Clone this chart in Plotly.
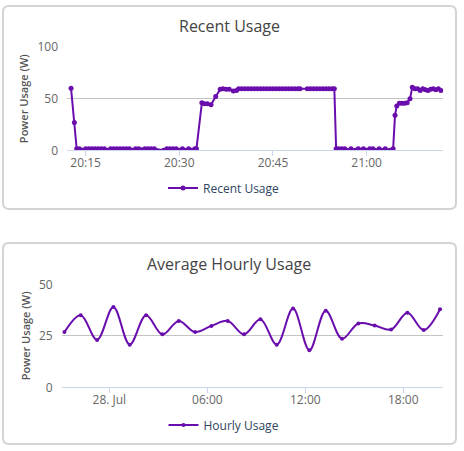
import pandas as pd
import plotly.graph_objects as go

# recent usage, 28 Jul (W)
recent_day = "2018-07-28 "
recent_times = [
    "20:12:40", "20:13:12", "20:13:34",
    "20:14:00", "20:14:30", "20:15:00", "20:15:30", "20:16:00", "20:16:30",
    "20:17:00", "20:17:30", "20:18:00", "20:18:30", "20:19:00", "20:19:30",
    "20:20:00", "20:20:30", "20:21:00", "20:21:30", "20:22:00", "20:22:30",
    "20:23:00", "20:23:30", "20:24:00", "20:24:30", "20:25:00", "20:25:30",
    "20:26:00", "20:27:30", "20:28:00", "20:28:30", "20:29:00", "20:29:30",
    "20:30:00", "20:30:30", "20:31:00", "20:31:30", "20:32:00", "20:32:30",
    "20:32:45",
    "20:33:37", "20:34:00", "20:34:30", "20:35:05", "20:35:50", "20:36:33",
    "20:37:00", "20:37:30", "20:38:00", "20:38:40", "20:39:10", "20:39:30",
    "20:40:00", "20:40:30", "20:41:00", "20:41:30", "20:42:00", "20:42:30",
    "20:43:00", "20:43:30", "20:44:00", "20:44:30", "20:45:00", "20:45:30",
    "20:46:00", "20:46:30", "20:47:00", "20:47:30", "20:48:00", "20:48:30",
    "20:49:00", "20:49:20", "20:50:30", "20:51:00", "20:51:30", "20:52:00",
    "20:52:30", "20:53:00", "20:53:30", "20:54:00", "20:54:30", "20:54:50",
    "20:55:07", "20:55:30", "20:56:00", "20:56:30", "20:56:50", "20:57:30",
    "20:58:10", "20:58:40", "20:59:30", "21:00:00", "21:00:30", "21:01:00",
    "21:01:20", "21:02:00", "21:02:25", "21:03:00", "21:03:45", "21:04:15",
    "21:04:33", "21:04:50", "21:05:15", "21:05:40", "21:06:05", "21:06:30",
    "21:06:57", "21:07:19", "21:07:45", "21:08:10", "21:08:35", "21:09:00",
    "21:09:25", "21:09:50", "21:10:15", "21:10:40", "21:11:05", "21:11:30",
    "21:11:54",
]
recent_watts = [
    60, 27, 1.5,
    1.5, 0, 1.5, 1.5, 1.5, 1.5,
    1.5, 1.5, 1.5, 0, 1.5, 1.5,
    1.5, 1.5, 1.5, 1.5, 1.5, 0,
    1.5, 1.5, 0.5, 1.5, 1.5, 1.5,
    1.5, 0, 1.5, 1.5, 1.5, 1.5,
    0, 1.5, 0, 1.5, 0, 1.5,
    1.5,
    46, 45, 45, 44, 52, 59,
    59.5, 59, 59, 57.5, 58, 59.5,
    59.5, 59.5, 59.5, 59.5, 59.5, 59.5,
    59.5, 59.5, 59.5, 59.5, 59.5, 59.5,
    59.5, 59.5, 59.5, 59.5, 59.5, 59.5,
    59.5, 59.5, 59.5, 59.5, 59.5, 59.5,
    59.5, 59.5, 59.5, 59.5, 59.5, 59.5,
    1.5, 1.5, 1.5, 1.5, 0, 1.5,
    0, 1.5, 1.5, 0, 1.5, 1.5,
    0, 1.5, 0, 1.5, 0, 1.5,
    34, 43, 45.5, 45.5, 45.5, 46,
    50, 61, 59.5, 59.5, 58, 59.5,
    58.5, 58, 59, 59.5, 58.5, 59.5,
    58,
]

# hourly averages (W)
hourly_times = [
    "2018-07-27 21:15", "2018-07-27 22:15", "2018-07-27 23:15",
    "2018-07-28 00:15", "2018-07-28 01:15", "2018-07-28 02:15",
    "2018-07-28 03:15", "2018-07-28 04:15", "2018-07-28 05:15",
    "2018-07-28 06:15", "2018-07-28 07:15", "2018-07-28 08:15",
    "2018-07-28 09:15", "2018-07-28 10:15", "2018-07-28 11:15",
    "2018-07-28 12:15", "2018-07-28 13:15", "2018-07-28 14:15",
    "2018-07-28 15:15", "2018-07-28 16:15", "2018-07-28 17:15",
    "2018-07-28 18:15", "2018-07-28 19:15", "2018-07-28 20:15",
]
hourly_watts = [
    26.8, 35, 23, 39, 20.7, 35, 25.7, 32.2, 26.8, 29.8, 32.2, 25.7,
    33, 20.7, 38.2, 18, 37.2, 23.6, 31, 30, 28, 36.2, 27.8, 37.9,
]

W, H = 464, 451
purple = "#6a0dad"
font = "Open Sans"


def px(x):
    return x / W


def py(y):
    return 1 - y / H


def card(x0, y0, x1, y1, r=6):
    return (f"M{px(x0 + r)},{py(y0)} L{px(x1 - r)},{py(y0)} "
            f"Q{px(x1)},{py(y0)} {px(x1)},{py(y0 + r)} L{px(x1)},{py(y1 - r)} "
            f"Q{px(x1)},{py(y1)} {px(x1 - r)},{py(y1)} L{px(x0 + r)},{py(y1)} "
            f"Q{px(x0)},{py(y1)} {px(x0)},{py(y1 - r)} L{px(x0)},{py(y0 + r)} "
            f"Q{px(x0)},{py(y0)} {px(x0 + r)},{py(y0)} Z")


fig = go.Figure()
fig.add_trace(go.Scatter(
    x=pd.to_datetime([recent_day + t for t in recent_times]), y=recent_watts,
    mode="lines+markers", name="Recent Usage",
    line=dict(color=purple, width=2), marker=dict(size=5, color=purple),
    xaxis="x", yaxis="y", legend="legend",
))
fig.add_trace(go.Scatter(
    x=pd.to_datetime(hourly_times), y=hourly_watts,
    mode="lines+markers", name="Hourly Usage",
    line=dict(color=purple, width=2, shape="spline", smoothing=1),
    marker=dict(size=4, color=purple),
    xaxis="x2", yaxis="y2", legend="legend2",
))

xcommon = dict(showgrid=False, showline=True, linecolor="#ccd6eb", linewidth=1,
               ticks="outside", ticklen=5, tickcolor="#ccd6eb", tickformat="%H:%M",
               ticklabelstandoff=-4,
               tickfont=dict(family=font, size=12, color="#666666"), zeroline=False,
               automargin=False)
ycommon = dict(showgrid=True, gridcolor="#c4c4c4", gridwidth=1, zeroline=False,
               showline=False, ticklabelstandoff=8, automargin=False,
               tickfont=dict(family=font, size=12, color="#666666"))
ytitle = dict(text="Power Usage (W)", font=dict(family=font, size=11, color="#555555", weight=600),
              standoff=6)

fig.update_layout(
    width=W, height=H, margin=dict(l=0, r=0, t=0, b=0, autoexpand=False),
    paper_bgcolor="white", plot_bgcolor="rgba(0,0,0,0)",
    showlegend=True,
    xaxis=dict(xcommon, domain=[px(67), px(443.3)], anchor="y",
               range=["2018-07-28 20:12:01", "2018-07-28 21:12:17"],
               tickvals=pd.to_datetime(["2018-07-28 20:15", "2018-07-28 20:30",
                                        "2018-07-28 20:45", "2018-07-28 21:00"])),
    yaxis=dict(ycommon, domain=[py(150.3), py(47)], anchor="x", range=[0, 100],
               tickvals=[0, 50, 100], title=ytitle),
    xaxis2=dict(xcommon, domain=[px(61.7), px(443.3)], anchor="y2",
                range=["2018-07-27 21:05", "2018-07-28 20:27"],
                tickvals=pd.to_datetime(["2018-07-28 00:00", "2018-07-28 06:00",
                                         "2018-07-28 12:00", "2018-07-28 18:00"]),
                ticktext=["28. Jul", "06:00", "12:00", "18:00"]),
    yaxis2=dict(ycommon, domain=[py(387.3), py(284.3)], anchor="x2", range=[0, 50],
                tickvals=[0, 25, 50], title=ytitle),
    legend=dict(x=px(224), y=py(188), xanchor="center", yanchor="middle", orientation="h",
                font=dict(family=font, size=12, color="#2e4460"), bgcolor="rgba(0,0,0,0)"),
    legend2=dict(x=px(224), y=py(425), xanchor="center", yanchor="middle", orientation="h",
                 font=dict(family=font, size=12, color="#2e4460"), bgcolor="rgba(0,0,0,0)"),
    shapes=[
        dict(type="path", xref="paper", yref="paper", path=card(3, 6, 456, 209),
             fillcolor="white", line=dict(color="#d4d4d4", width=2), layer="below"),
        dict(type="path", xref="paper", yref="paper", path=card(3, 243, 456, 444),
             fillcolor="white", line=dict(color="#d4d4d4", width=2), layer="below"),
    ],
    annotations=[
        dict(text="Recent Usage", x=px(229), y=py(26), xref="paper", yref="paper",
             xanchor="center", yanchor="middle", showarrow=False,
             font=dict(family=font, size=16, color="#444444")),
        dict(text="Average Hourly Usage", x=px(229), y=py(264), xref="paper", yref="paper",
             xanchor="center", yanchor="middle", showarrow=False,
             font=dict(family=font, size=16, color="#444444")),
    ],
)

# page margin would push the fixed-size figure off the window
fig.write_html("out.html", config={"displayModeBar": False},
               post_script="document.body.style.margin='0';document.body.style.overflow='hidden';")
